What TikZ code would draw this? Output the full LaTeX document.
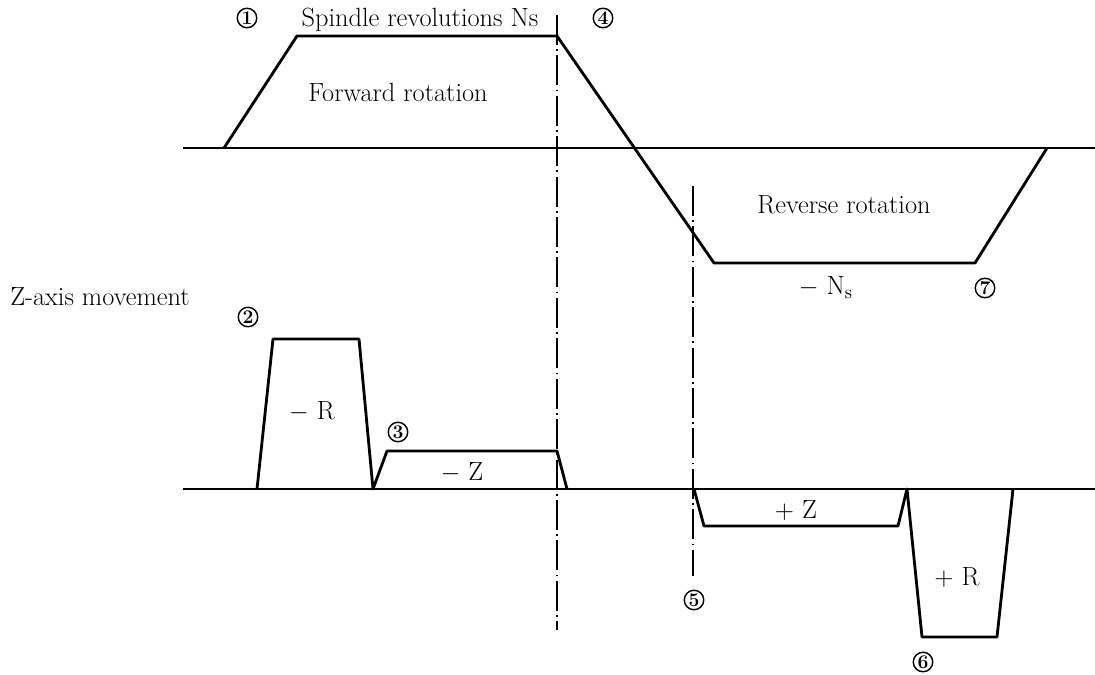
\documentclass[tikz,border=0pt]{standalone}
\usepackage{tikz}
\usetikzlibrary{positioning}

\begin{document}
\begin{tikzpicture}[
  x=0.02cm, y=-0.02cm,
  every node/.style={font=\fontsize{15}{17}\selectfont},
  curve/.style={line width=1.6pt, line join=round},
  axisline/.style={line width=0.8pt},
  centerline/.style={line width=0.6pt, dash pattern=on 17pt off 2.5pt on 1pt off 2.5pt},
  num/.style={circle, draw, line width=0.8pt, inner sep=0pt, minimum size=0.39cm,
    font=\fontsize{11}{11}\selectfont\bfseries}
]
\useasboundingbox (0,0) rectangle (1095,675);

% axes
\draw[axisline] (183,148) -- (1095,148);
\draw[axisline] (183,489) -- (1095,489);

% centre lines
\draw[centerline] (557,15) -- (557,630);
\draw[centerline] (693,186) -- (693,576);

% spindle revolutions
\draw[curve] (224,148) -- (297,36) -- (557,36) -- (714,263) -- (975,263) -- (1047,148);

% Z-axis movement
\draw[curve] (257,489) -- (273,339) -- (359,339) -- (373,489)
  -- (387,451) -- (557,451) -- (567,489);
\draw[curve] (694,489) -- (704,526) -- (898,526) -- (907,489)
  -- (922,637) -- (997,637) -- (1013,489);

% labels
\node (spindle) at (420,20) {Spindle revolutions Ns};
\node (fwd) at (398,92) {Forward rotation};
\node (rev) at (844,205) {Reverse rotation};
\node (negns) at (826,288) {$-$ N\textsubscript{s}};
\node (zaxis) at (100,297) {Z-axis movement};
\node (negr) at (312,412) {$-$ R};
\node (negz) at (462,473) {$-$ Z};
\node (posz) at (796,510) {$+$ Z};
\node (posr) at (957,577) {$+$ R};

% step numbers
\node[num] (n1) at (247,18) {1};
\node[num] (n2) at (248,317) {2};
\node[num] (n3) at (398,432) {3};
\node[num] (n4) at (603,18) {4};
\node[num] (n5) at (694,600) {5};
\node[num] (n6) at (923,662) {6};
\node[num] (n7) at (985,288) {7};
\end{tikzpicture}
\end{document}
